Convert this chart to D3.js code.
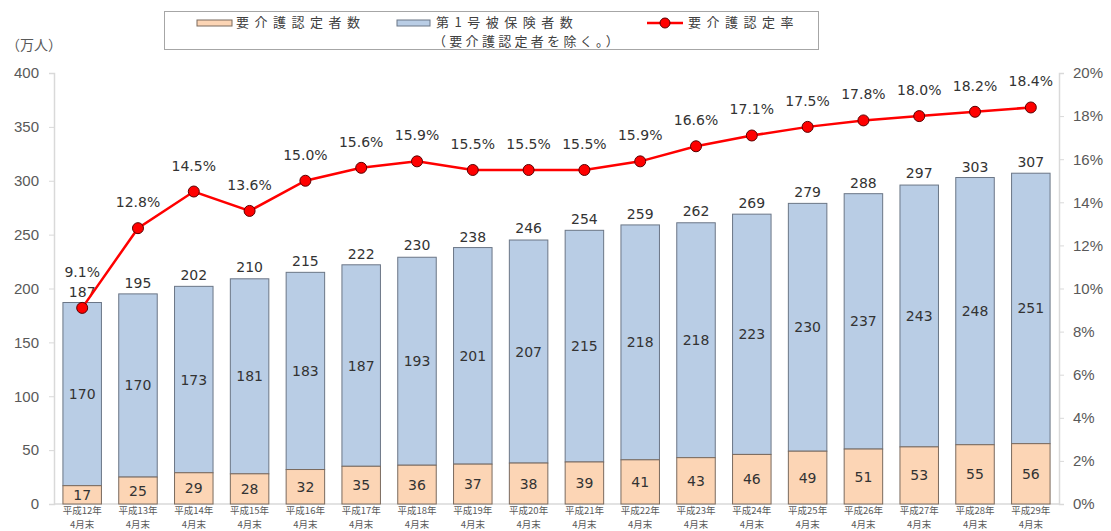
<!DOCTYPE html>
<html>
<head>
<meta charset="utf-8">
<script src="https://cdn.jsdelivr.net/npm/d3@7"></script>
<style>
body { margin: 0; background: #fff; }
svg text { font-family: "Noto Sans CJK JP", "Noto Sans", sans-serif; }
</style>
</head>
<body>
<div id="chart"></div>
<script>
// data
var years = ["平成12年", "平成13年", "平成14年", "平成15年", "平成16年", "平成17年", "平成18年", "平成19年", "平成20年",
    "平成21年", "平成22年", "平成23年", "平成24年", "平成25年", "平成26年", "平成27年", "平成28年", "平成29年"];
var certified = [17, 25, 29, 28, 32, 35, 36, 37, 38, 39, 41, 43, 46, 49, 51, 53, 55, 56];
var others = [170, 170, 173, 181, 183, 187, 193, 201, 207, 215, 218, 218, 223, 230, 237, 243, 248, 251];
var totals = [187, 195, 202, 210, 215, 222, 230, 238, 246, 254, 259, 262, 269, 279, 288, 297, 303, 307];
var rates = [9.1, 12.8, 14.5, 13.6, 15.0, 15.6, 15.9, 15.5, 15.5, 15.5, 15.9, 16.6, 17.1, 17.5, 17.8, 18.0, 18.2, 18.4];
var leftTicks = [0, 50, 100, 150, 200, 250, 300, 350, 400];
var rightTicks = [0, 2, 4, 6, 8, 10, 12, 14, 16, 18, 20];

var width = 1111, height = 531;
var margin = { top: 73, right: 52, bottom: 27, left: 54 };

var svg = d3.select("#chart").append("svg")
    .attr("width", width)
    .attr("height", height);

var x = d3.scaleBand()
    .domain(years)
    .range([margin.left, width - margin.right])
    .paddingInner(0.31)
    .paddingOuter(0.16);

var y = d3.scaleLinear().domain([0, 400]).range([height - margin.bottom, margin.top]);
var yr = d3.scaleLinear().domain([0, 20]).range([height - margin.bottom, margin.top]);

var textColor = "#595959";
var axisColor = "#d9d9d9";
var tickFont = "Liberation Sans, Arial, sans-serif";
var numFont = "DejaVu Sans, sans-serif";

// left axis
var gl = svg.append("g")
    .attr("transform", "translate(" + margin.left + ",0)")
    .call(d3.axisLeft(y).tickValues(leftTicks).tickSize(5).tickPadding(10));
gl.select(".domain").attr("stroke", axisColor).attr("stroke-width", 1.5);
gl.selectAll(".tick line").attr("stroke", axisColor);
gl.selectAll(".tick text").attr("fill", textColor).style("font-size", "15px")
    .style("font-family", tickFont);

// right axis
var gr = svg.append("g")
    .attr("transform", "translate(" + (width - margin.right) + ",0)")
    .call(d3.axisRight(yr).tickValues(rightTicks).tickSize(5).tickPadding(9)
        .tickFormat(function (d) { return d + "%"; }));
gr.select(".domain").attr("stroke", axisColor).attr("stroke-width", 1.5);
gr.selectAll(".tick line").attr("stroke", axisColor);
gr.selectAll(".tick text").attr("fill", textColor).style("font-size", "15px")
    .style("font-family", tickFont);

// bottom baseline + category labels
var base = height - margin.bottom;
svg.append("line")
    .attr("x1", margin.left).attr("x2", width - margin.right)
    .attr("y1", base).attr("y2", base)
    .attr("stroke", axisColor).attr("stroke-width", 1.5);

var xl = svg.append("g").selectAll("g")
    .data(years)
    .enter().append("g")
    .attr("transform", function (d) { return "translate(" + (x(d) + x.bandwidth() / 2) + "," + base + ")"; });
xl.append("text")
    .attr("y", 10)
    .attr("text-anchor", "middle")
    .attr("fill", textColor)
    .style("font-size", "9.5px")
    .text(function (d) { return d; });
xl.append("text")
    .attr("y", 24)
    .attr("text-anchor", "middle")
    .attr("fill", textColor)
    .style("font-size", "9.5px")
    .text("4月末");

// bars
var bars = svg.append("g").selectAll("g")
    .data(years)
    .enter().append("g");

bars.append("rect")
    .attr("x", function (d) { return x(d); })
    .attr("width", x.bandwidth())
    .attr("y", function (d, i) { return y(certified[i] + others[i]); })
    .attr("height", function (d, i) { return y(certified[i]) - y(certified[i] + others[i]); })
    .attr("fill", "#B9CDE5")
    .attr("stroke", "#6b7686")
    .attr("stroke-width", 1);

bars.append("rect")
    .attr("x", function (d) { return x(d); })
    .attr("width", x.bandwidth())
    .attr("y", function (d, i) { return y(certified[i]); })
    .attr("height", function (d, i) { return y(0) - y(certified[i]); })
    .attr("fill", "#FCD5B5")
    .attr("stroke", "#7a6a5e")
    .attr("stroke-width", 1);

bars.append("text")
    .attr("x", function (d) { return x(d) + x.bandwidth() / 2; })
    .attr("y", function (d, i) { return y(certified[i] / 2) + 5; })
    .attr("text-anchor", "middle")
    .attr("fill", "#333")
    .style("font-size", "14px")
    .style("font-family", numFont)
    .text(function (d, i) { return certified[i]; });

bars.append("text")
    .attr("x", function (d) { return x(d) + x.bandwidth() / 2; })
    .attr("y", function (d, i) { return y(certified[i] + others[i] / 2) + 5; })
    .attr("text-anchor", "middle")
    .attr("fill", "#333")
    .style("font-size", "14px")
    .style("font-family", numFont)
    .text(function (d, i) { return others[i]; });

bars.append("text")
    .attr("x", function (d) { return x(d) + x.bandwidth() / 2; })
    .attr("y", function (d, i) { return y(totals[i]) - 6; })
    .attr("text-anchor", "middle")
    .attr("fill", "#333")
    .style("font-size", "14px")
    .style("font-family", numFont)
    .text(function (d, i) { return totals[i]; });

// rate line
var line = d3.line()
    .x(function (d, i) { return x(years[i]) + x.bandwidth() / 2; })
    .y(function (d) { return yr(d); });

svg.append("path")
    .datum(rates)
    .attr("d", line)
    .attr("fill", "none")
    .attr("stroke", "#FF0000")
    .attr("stroke-width", 2.5);

svg.append("g").selectAll("circle")
    .data(rates)
    .enter().append("circle")
    .attr("cx", function (d, i) { return x(years[i]) + x.bandwidth() / 2; })
    .attr("cy", function (d) { return yr(d); })
    .attr("r", 5.5)
    .attr("fill", "#FF0000")
    .attr("stroke", "#5a0000")
    .attr("stroke-width", 1);

svg.append("g").selectAll("text")
    .data(rates)
    .enter().append("text")
    .attr("x", function (d, i) { return x(years[i]) + x.bandwidth() / 2; })
    // first label sits above the 187 total label
    .attr("y", function (d, i) { return i === 0 ? yr(d) - 31 : yr(d) - 21; })
    .attr("text-anchor", "middle")
    .attr("fill", "#333")
    .style("font-size", "14px")
    .style("font-family", numFont)
    .text(function (d) { return d.toFixed(1) + "%"; });

// unit label
svg.append("text")
    .attr("x", 6).attr("y", 50)
    .attr("fill", textColor)
    .style("font-size", "14px")
    .text("（万人）");

// legend
var legend = svg.append("g");
legend.append("rect")
    .attr("x", 164.5).attr("y", 11.5)
    .attr("width", 654).attr("height", 38)
    .attr("fill", "#fff")
    .attr("stroke", "#a6a6a6");

legend.append("rect")
    .attr("x", 197).attr("y", 20).attr("width", 35).attr("height", 6)
    .attr("fill", "#FCD5B5").attr("stroke", "#7a6a5e");
legend.append("text")
    .attr("x", 236).attr("y", 27)
    .attr("fill", "#404040").style("font-size", "13px").style("letter-spacing", "5.5px")
    .text("要介護認定者数");

legend.append("rect")
    .attr("x", 397).attr("y", 20).attr("width", 33).attr("height", 6)
    .attr("fill", "#B9CDE5").attr("stroke", "#6b7686");
legend.append("text")
    .attr("x", 436).attr("y", 27)
    .attr("fill", "#404040").style("font-size", "13px").style("letter-spacing", "5.5px")
    .text("第1号被保険者数");
legend.append("text")
    .attr("x", 433).attr("y", 46)
    .attr("fill", "#404040").style("font-size", "13px").style("letter-spacing", "3.3px")
    .text("（要介護認定者を除く。）");

legend.append("line")
    .attr("x1", 647).attr("x2", 683).attr("y1", 23).attr("y2", 23)
    .attr("stroke", "#FF0000").attr("stroke-width", 2.5);
legend.append("circle")
    .attr("cx", 665).attr("cy", 23).attr("r", 5)
    .attr("fill", "#FF0000").attr("stroke", "#5a0000");
legend.append("text")
    .attr("x", 688).attr("y", 27)
    .attr("fill", "#404040").style("font-size", "13px").style("letter-spacing", "5.5px")
    .text("要介護認定率");
</script>
</body>
</html>
